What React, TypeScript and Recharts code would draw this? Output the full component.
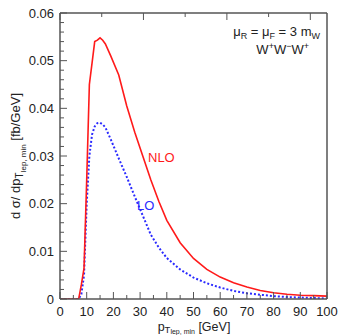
import React from 'react';
import { LineChart, Line, XAxis, YAxis } from 'recharts';

// p_T,lep,min [GeV] and dσ/dp_T [fb/GeV]
const ptLepMin = [0, 5, 7, 8, 9, 10, 11, 12, 13, 14, 15, 16, 17, 19, 22, 25, 28, 31, 34, 37, 40, 45, 50, 55, 60, 65, 70, 75, 80, 85, 90, 95, 100];
const nloValues = [0, 0, 0, 0.003, 0.0065, 0.025, 0.045, 0.0495, 0.054, 0.0543, 0.0548, 0.0543, 0.0535, 0.051, 0.047, 0.0405, 0.035, 0.03, 0.025, 0.0205, 0.0165, 0.0118, 0.0085, 0.0062, 0.0046, 0.0034, 0.0025, 0.0018, 0.0013, 0.001, 0.0008, 0.0007, 0.0006];
const loValues = [0, 0, 0, 0.001, 0.005, 0.02, 0.03, 0.0345, 0.0362, 0.0369, 0.037, 0.0366, 0.036, 0.0335, 0.0295, 0.0256, 0.0215, 0.0175, 0.0135, 0.0108, 0.0086, 0.0062, 0.0045, 0.0033, 0.0024, 0.0017, 0.0012, 0.0009, 0.0006, 0.0004, 0.0003, 0.0002, 0.0001];

const xTickLabels = ['0', '10', '20', '30', '40', '50', '60', '70', '80', '90', '100'];
const yTickLabels = ['0', '0.01', '0.02', '0.03', '0.04', '0.05', '0.06'];

const data = ptLepMin.map((pt, i) => ({ pt, nlo: nloValues[i], lo: loValues[i] }));

// major ticks every 10 GeV / 0.01, minor every 5 GeV / 0.002
const xTicks = Array.from({ length: 21 }, (_, i) => i * 5);
const yTicks = Array.from({ length: 31 }, (_, i) => (i * 2) / 1000);

const AXIS = '#555';
const FONT = '"Liberation Sans", Arial, Helvetica, sans-serif';
const RED = '#ff1a1a';
const BLUE = '#2a2aff';

const xLabel = (v: number) => xTickLabels[Math.round(v / 10)];
const yLabel = (v: number) => yTickLabels[Math.round(v * 100)];
const isMajorX = (v: number) => Math.round(v) % 10 === 0;
const isMajorY = (v: number) => Math.round(v * 1000) % 10 === 0;

const BottomTick = (props: any) => {
  const { x, y, payload } = props;
  const major = isMajorX(payload.value);
  return (
    <g>
      <line x1={x} y1={y} x2={x} y2={y - (major ? 7 : 4)} stroke={AXIS} />
      {major && (
        <text x={x} y={y + 16.5} textAnchor='middle' fontSize={13} fontFamily={FONT} fill='#222'>
          {xLabel(payload.value)}
        </text>
      )}
    </g>
  );
};

const TopTick = (props: any) => {
  const { x, y, payload } = props;
  const major = isMajorX(payload.value);
  return <line x1={x} y1={y} x2={x} y2={y + (major ? 7 : 4)} stroke={AXIS} />;
};

const LeftTick = (props: any) => {
  const { x, y, payload } = props;
  const major = isMajorY(payload.value);
  return (
    <g>
      <line x1={x} y1={y} x2={x + (major ? 7 : 4)} y2={y} stroke={AXIS} />
      {major && (
        <text x={x - 6} y={y + 4.5} textAnchor='end' fontSize={13} fontFamily={FONT} fill='#222'>
          {yLabel(payload.value)}
        </text>
      )}
    </g>
  );
};

const RightTick = (props: any) => {
  const { x, y, payload } = props;
  const major = isMajorY(payload.value);
  return <line x1={x} y1={y} x2={x - (major ? 7 : 4)} y2={y} stroke={AXIS} />;
};

export default function App() {
  return (
    <div style={{ position: 'absolute', left: 0, top: 0, width: 347, height: 335, background: '#fff' }}>
      <LineChart width={347} height={335} data={data} margin={{ top: 12, right: 19, bottom: 35, left: 59 }}>
        <XAxis
          dataKey='pt'
          type='number'
          domain={[0, 100]}
          ticks={xTicks}
          interval={0}
          height={1}
          tickSize={0}
          tickMargin={0}
          tick={<BottomTick />}
          axisLine={{ stroke: AXIS, strokeWidth: 1.5 }}
        />
        <XAxis
          xAxisId='top'
          orientation='top'
          type='number'
          domain={[0, 100]}
          ticks={xTicks}
          interval={0}
          height={1}
          tickSize={0}
          tickMargin={0}
          tick={<TopTick />}
          axisLine={{ stroke: AXIS, strokeWidth: 1.5 }}
        />
        <YAxis
          type='number'
          domain={[0, 0.06]}
          ticks={yTicks}
          interval={0}
          width={1}
          tickSize={0}
          tickMargin={0}
          tick={<LeftTick />}
          axisLine={{ stroke: AXIS, strokeWidth: 1.5 }}
          allowDataOverflow
        />
        <YAxis
          yAxisId='right'
          orientation='right'
          type='number'
          domain={[0, 0.06]}
          ticks={yTicks}
          interval={0}
          width={1}
          tickSize={0}
          tickMargin={0}
          tick={<RightTick />}
          axisLine={{ stroke: AXIS, strokeWidth: 1.5 }}
        />
        <Line type='linear' dataKey='lo' stroke={BLUE} strokeWidth={2} strokeDasharray='2 2' dot={false} isAnimationActive={false} />
        <Line type='linear' dataKey='nlo' stroke={RED} strokeWidth={1.6} dot={false} isAnimationActive={false} />
      </LineChart>
      <svg width={347} height={335} style={{ position: 'absolute', left: 0, top: 0, pointerEvents: 'none' }} fontFamily={FONT}>
        <text transform='translate(20,156) rotate(-90)' textAnchor='middle' fontSize={13} fill='#222'>
          d σ/ dp
          <tspan fontSize={10} dy={3}>T</tspan>
          <tspan fontSize={8} dy={3}>lep, min</tspan>
          <tspan dy={-6}> [fb/GeV]</tspan>
        </text>
        <text x={194} y={331} textAnchor='middle' fontSize={12.5} fill='#222'>
          p
          <tspan fontSize={9.5} dy={2}>T</tspan>
          <tspan fontSize={7} dy={1}>lep, min</tspan>
          <tspan dy={-3}> [GeV]</tspan>
        </text>
        <text x={320} y={36} textAnchor='end' fontSize={13} fill='#222'>
          μ<tspan fontSize={9} dy={3}>R</tspan>
          <tspan dy={-3}> = μ</tspan>
          <tspan fontSize={9} dy={3}>F</tspan>
          <tspan dy={-3}> = 3 m</tspan>
          <tspan fontSize={9} dy={3}>W</tspan>
        </text>
        <text x={309} y={54} textAnchor='end' fontSize={13} fill='#222'>
          W<tspan fontSize={9} dy={-5}>+</tspan>
          <tspan dy={5}>W</tspan>
          <tspan fontSize={9} dy={-5}>−</tspan>
          <tspan dy={5}>W</tspan>
          <tspan fontSize={9} dy={-5}>+</tspan>
        </text>
        <text x={148} y={162} fontSize={13} fill={RED}>NLO</text>
        <text x={137} y={210} fontSize={13} fill={BLUE}>LO</text>
      </svg>
    </div>
  );
}
